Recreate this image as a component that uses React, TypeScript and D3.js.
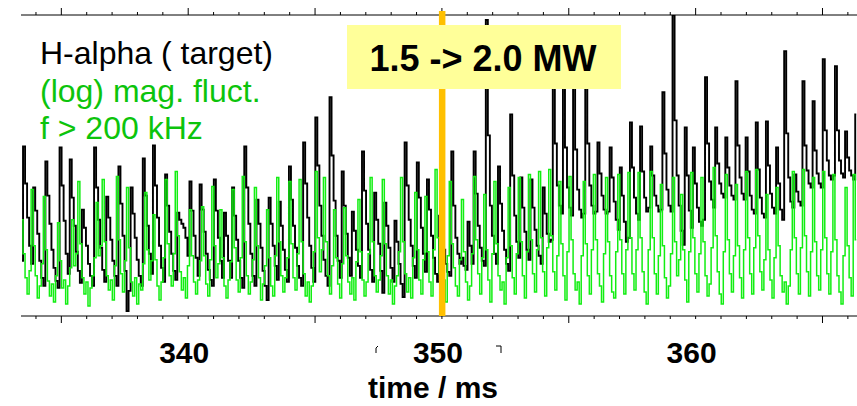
import React, { useEffect } from "react";
import * as d3 from "d3";

// H-alpha (target) signal, a.u., one sample every T_STEP ms from T_START
const halpha: number[] = [
  0.55,
  1.69, 1.32, 0.98, 0.70, 0.52,
  1.28, 1.05, 0.82, 0.55, 0.38, 0.30,
  1.54, 1.20, 0.92, 0.66, 0.48, 0.35, 0.28,
  1.68, 1.30, 0.95, 0.62, 0.42,
  1.56, 1.18, 0.90, 0.64, 0.45, 0.33,
  1.06, 0.88, 0.70, 0.52, 0.40, 0.30,
  1.68, 1.28, 0.96, 0.68, 0.46, 0.34,
  1.19, 0.98, 0.76, 0.55, 0.40, 0.30,
  1.49, 1.12, 0.80, 0.45, 0.05, 0.25,
  1.28, 1.02, 0.78, 0.56, 0.40, 0.30,
  1.57, 1.20, 0.90, 0.62, 0.42,
  1.70, 1.30, 0.98, 0.70, 0.48, 0.34,
  1.41, 1.10, 0.84, 0.62, 0.45, 0.36,
  1.03, 0.96, 0.92, 0.88, 0.78, 0.60,
  1.34, 1.05, 0.80, 0.58, 0.40,
  1.31, 1.06, 0.84, 0.62, 0.46, 0.36, 0.30,
  1.36, 1.05, 0.78, 0.55, 0.38,
  1.03, 0.80, 0.55, 0.38,
  1.28, 1.00, 0.76, 0.55, 0.38, 0.28,
  1.69, 1.28, 0.92, 0.62, 0.40, 0.30,
  1.16, 0.92, 0.68, 0.45, 0.30, 0.16,
  1.18, 0.92, 0.70, 0.50, 0.36,
  1.14, 0.90, 0.66, 0.46, 0.34,
  1.49, 1.16, 0.90, 0.68, 0.50, 0.38, 0.30,
  1.73, 1.32, 0.98, 0.70, 0.48, 0.34,
  1.98, 1.50, 1.10, 0.80, 0.56, 0.40, 0.30,
  2.18, 1.60, 1.15, 0.80, 0.55, 0.38,
  1.44, 1.10, 0.82, 0.58, 0.40,
  1.04, 0.85, 0.66, 0.50, 0.38,
  1.64, 1.25, 0.92, 0.66, 0.46, 0.34,
  1.23, 0.96, 0.72, 0.45, 0.23,
  1.13, 0.90, 0.68, 0.48, 0.34,
  0.95, 0.74, 0.52, 0.32, 0.19,
  1.73, 1.30, 0.96, 0.70, 0.50, 0.38,
  1.53, 1.18, 0.88, 0.62, 0.44,
  1.36, 1.06, 0.80, 0.58, 0.42, 0.34,
  1.00, 0.82, 0.66, 0.52, 0.44, 0.40,
  1.64, 1.10, 0.78, 0.62, 0.52, 0.58, 0.50, 0.46,
  0.94, 0.70, 0.52,
  1.64, 1.22, 0.90, 0.68, 0.55, 0.50,
  2.95, 1.80, 1.10, 0.80, 0.62, 0.52,
  1.49, 1.12, 0.85, 0.66, 0.52, 0.45,
  2.01, 1.40, 1.00, 0.74, 0.58,
  1.38, 1.08, 0.84, 0.66, 0.56,
  1.36, 1.08, 0.86, 0.70, 0.60, 0.52,
  1.28, 1.02, 0.82, 0.74, 0.76,
  2.46, 1.72, 1.30, 1.10, 1.02,
  2.41, 1.68, 1.28, 1.08, 1.00,
  2.36, 1.66, 1.26, 1.06, 0.98, 1.02,
  2.46, 1.72, 1.30, 1.10, 1.02, 1.04,
  1.73, 1.42, 1.20, 1.06, 1.02, 1.04,
  1.68, 1.38, 1.14, 0.96, 0.86,
  1.48, 1.20, 0.94, 0.74, 0.78,
  1.93, 1.48, 1.18, 1.02, 0.96,
  1.89, 1.44, 1.18, 1.04, 1.08,
  1.69, 1.40, 1.20, 1.10, 1.04, 1.06,
  2.23, 1.62, 1.26, 1.10, 1.04,
  3.00, 1.95, 1.40, 1.10, 0.85, 0.71,
  1.88, 1.40, 1.05, 0.88,
  1.68, 1.32, 1.08, 0.94, 0.90, 0.96,
  2.38, 1.72, 1.34, 1.16, 1.08,
  1.88, 1.52, 1.32, 1.22, 1.18,
  1.78, 1.48, 1.30, 1.20, 1.16,
  2.34, 1.70, 1.38, 1.22, 1.16,
  1.78, 1.44, 1.20, 1.06, 1.02,
  1.93, 1.46, 1.18, 1.02, 0.98,
  1.94, 1.50, 1.22, 1.08, 1.02,
  1.68, 1.32, 1.06, 0.96,
  2.64, 1.82, 1.38, 1.14, 1.08,
  1.41, 1.24, 1.14, 1.10,
  2.34, 1.70, 1.45, 1.32, 1.28,
  2.14, 1.65, 1.42, 1.32, 1.28,
  2.56, 1.85, 1.55, 1.40, 1.36, 1.40,
  2.49, 1.85, 1.55, 1.42, 1.38,
  1.84, 1.58, 1.45, 1.40, 1.36,
  2.01,
];

// (log) magnetic fluctuation amplitude, f > 200 kHz, a.u., same time base
const magFluct: number[] = [
  0.96, 0.62, 0.38, 0.22, 0.45, 1.26, 0.70, 0.40, 0.18, 0.30,
  0.52, 1.19, 0.66, 0.35, 0.20, 0.32, 0.14, 0.40, 0.93, 0.55,
  0.28, 0.36, 0.12, 0.30, 0.48, 0.96, 0.50, 0.62, 1.34, 0.72,
  0.38, 0.22, 0.34, 0.10, 0.28, 0.40, 0.58, 1.13, 0.60, 0.70,
  1.36, 0.74, 0.40, 0.26, 0.36, 0.16, 0.50, 1.39, 0.76, 0.42,
  0.24, 0.55, 1.28, 0.68, 0.34, 0.20, 0.38, 0.12, 0.32, 0.26,
  0.52, 1.23, 0.66, 0.36, 0.55, 1.01, 0.56, 0.30, 0.16, 0.34,
  0.58, 1.36, 0.72, 0.40, 0.30, 0.62, 1.44, 0.80, 0.44, 0.26,
  0.38, 0.18, 0.50, 1.06, 0.60, 0.34, 0.22, 0.36, 0.55, 1.09,
  0.60, 0.32, 0.20, 0.56, 1.29, 0.70, 0.38, 0.52, 1.06, 0.58,
  0.30, 0.18, 0.36, 0.54, 1.26, 0.68, 0.36, 0.24, 0.58, 1.39,
  0.74, 0.40, 0.22, 0.34, 0.56, 1.28, 0.70, 0.38, 0.16, 0.32,
  0.50, 1.06, 0.58, 0.30, 0.20, 0.60, 1.38, 0.74, 0.40, 0.24,
  0.38, 0.58, 1.34, 0.72, 0.38, 0.26, 0.62, 1.36, 0.74, 0.42,
  0.20, 0.34, 0.14, 0.30, 0.64, 1.44, 0.78, 0.44, 0.66, 1.38,
  0.74, 0.40, 0.22, 0.50, 1.06, 0.58, 0.32, 0.18, 0.52, 1.08,
  0.60, 0.34, 0.22, 0.38, 0.16, 0.54, 1.16, 0.64, 0.36, 0.20,
  0.34, 0.62, 1.38, 0.74, 0.40, 0.24, 0.36, 0.60, 1.36, 0.72,
  0.40, 0.22, 0.36, 0.12, 0.30, 0.40, 0.64, 1.38, 0.74, 0.42,
  0.24, 0.38, 0.18, 0.58, 1.23, 0.66, 0.36, 0.22, 0.56, 1.19,
  0.64, 0.34, 0.20, 0.66, 1.46, 0.78, 0.42, 0.26, 0.36, 0.14,
  0.60, 1.34, 0.72, 0.48, 0.30, 0.20, 0.56, 1.16, 0.64, 0.34,
  0.16, 0.30, 0.62, 1.39, 0.76, 0.42, 0.22, 0.58, 1.21, 0.66,
  0.36, 0.14, 0.62, 1.34, 0.72, 0.40, 0.26, 0.34, 0.12, 0.58,
  1.28, 0.70, 0.38, 0.22, 0.62, 1.38, 0.74, 0.40, 0.18, 0.64,
  1.41, 0.76, 0.42, 0.24, 0.66, 1.44, 0.78, 0.44, 0.20, 0.68,
  1.46, 0.80, 0.44, 0.26, 0.60, 1.34, 0.72, 0.40, 0.16, 0.64,
  1.39, 0.76, 0.42, 0.26, 0.34, 0.12, 0.60, 1.34, 0.72, 0.40,
  0.22, 0.66, 1.41, 0.76, 0.42, 0.30, 0.14, 0.62, 1.38, 0.74,
  0.40, 0.24, 0.18, 0.64, 1.41, 0.76, 0.42, 0.22, 0.66, 1.43,
  0.78, 0.42, 0.26, 0.66, 1.43, 0.78, 0.44, 0.24, 0.12, 0.66,
  1.44, 0.78, 0.42, 0.22, 0.60, 1.31, 0.70, 0.38, 0.18, 0.30,
  0.62, 1.38, 0.74, 0.40, 0.56, 1.21, 0.66, 0.36, 0.14, 0.64,
  1.43, 0.78, 0.42, 0.24, 0.62, 1.38, 0.74, 0.40, 0.20, 0.32,
  0.68, 1.48, 0.80, 0.44, 0.22, 0.12, 0.64, 1.41, 0.76, 0.42,
  0.24, 0.60, 1.31, 0.70, 0.38, 0.18, 0.66, 1.44, 0.78, 0.42,
  0.22, 0.68, 1.46, 0.80, 0.44, 0.26, 0.56, 1.21, 0.66, 0.36,
  0.18, 0.58, 1.28, 0.70, 0.40, 0.24, 0.34, 0.12, 0.30, 0.66,
  1.44, 0.78, 0.42, 0.22, 0.68, 1.46, 0.80, 0.44, 0.20, 0.64,
  1.38, 0.74, 0.40, 0.26, 0.66, 1.44, 0.78, 0.42, 0.22, 0.64,
  1.41, 0.76, 0.40, 0.24, 0.12, 0.60, 1.28, 0.70, 0.38, 0.20,
  1.41, 0.76,
];

const T_START = 333.45; // ms
const T_STEP = 0.08; // ms
const T_DOMAIN = [333.41, 366.36];
const TICK_LABELS = [340, 350, 360];
const HEATING_STEP_TIME = 350; // ms
const POWER_LABEL = "1.5 -> 2.0 MW";
const LEGEND = [
  { text: "H-alpha ( target)", color: "#000000" },
  { text: "(log) mag. fluct.", color: "#0cc40c" },
  { text: "f > 200 kHz", color: "#0cc40c" },
];
const X_TITLE = "time / ms";

const FONT = "'Liberation Sans', Arial, Helvetica, sans-serif";

export default function App() {
  useEffect(() => {
    document.body.style.margin = "0";
  }, []);

  const W = 857;
  const H = 406;
  const left = 21;
  const right = 857;
  const top = 15;
  const bottom = 316;

  const x = d3.scaleLinear().domain(T_DOMAIN).range([left, right]);
  const y = d3.scaleLinear().domain([0, 3]).range([bottom, top]);

  const tAt = (i: number) => T_START + i * T_STEP;
  const line = d3
    .line<number>()
    .x((_, i) => x(tAt(i)))
    .y((d) => y(d))
    .curve(d3.curveStep);

  const minorTicks = d3.range(Math.ceil(T_DOMAIN[0]), Math.floor(T_DOMAIN[1]) + 1);

  return (
    <svg
      width={W}
      height={H}
      viewBox={`0 0 ${W} ${H}`}
      style={{ position: "fixed", left: 0, top: 0, background: "#ffffff" }}
      fontFamily={FONT}
    >
      <defs>
        <clipPath id="plotArea">
          <rect x={left} y={top} width={right - left} height={bottom - top} />
        </clipPath>
      </defs>

      {/* signals */}
      <g clipPath="url(#plotArea)">
        <path d={line(halpha) ?? ""} fill="none" stroke="#000000" strokeWidth={1.9} />
        <path d={line(magFluct) ?? ""} fill="none" stroke="#12ee12" strokeWidth={1.5} />
      </g>

      {/* top frame axis */}
      <line x1={left} x2={right} y1={top} y2={top} stroke="#000" strokeWidth={1} />
      {minorTicks.map((t) => {
        const major = t % 5 === 0;
        return (
          <line
            key={`tt${t}`}
            x1={x(t)}
            x2={x(t)}
            y1={top}
            y2={top - (major ? 7 : 3)}
            stroke="#000"
            strokeWidth={1}
          />
        );
      })}

      {/* bottom axis */}
      <line x1={left} x2={right} y1={bottom} y2={bottom} stroke="#000" strokeWidth={1} />
      {minorTicks.map((t) => {
        const major = (t - 5) % 10 === 0;
        return (
          <line
            key={`bt${t}`}
            x1={x(t)}
            x2={x(t)}
            y1={bottom}
            y2={bottom + (major ? 7 : 3)}
            stroke="#000"
            strokeWidth={1}
          />
        );
      })}
      {TICK_LABELS.map((t) => (
        <text
          key={`lab${t}`}
          x={x(t) - 4}
          y={363}
          textAnchor="middle"
          fontSize={30}
          fontWeight="bold"
          fill="#000"
        >
          {t}
        </text>
      ))}
      <text x={433} y={398} textAnchor="middle" fontSize={30} fontWeight="bold" fill="#000">
        {X_TITLE}
      </text>
      {/* small marks beside the 350 label */}
      <path d="M376,353 L376,348 L378,346" fill="none" stroke="#000" strokeWidth={1} />
      <path d="M496,346 L501,346 L501,353" fill="none" stroke="#000" strokeWidth={1} />

      {/* heating power step marker */}
      <rect
        x={x(HEATING_STEP_TIME) - 3}
        y={11}
        width={6.5}
        height={bottom - 11}
        fill="#ffc000"
      />
      <rect x={347} y={25} width={274} height={64} fill="#ffff99" />
      <text x={483} y={71} textAnchor="middle" fontSize={36} fontWeight="bold" fill="#000">
        {POWER_LABEL}
      </text>

      {/* legend */}
      {LEGEND.map((l, k) => (
        <text key={l.text} x={40} y={64 + k * 37.5} fontSize={32} fill={l.color}>
          {l.text}
        </text>
      ))}
    </svg>
  );
}
